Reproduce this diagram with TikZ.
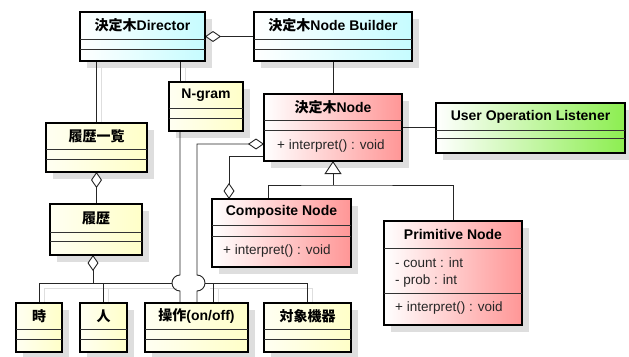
\documentclass[tikz,border=0pt]{standalone}
\usepackage{fontspec}
\setmainfont{Liberation Sans}
\newfontfamily\jp{Noto Sans CJK JP}
\usetikzlibrary{arrows.meta,calc}

\definecolor{cyanR}{RGB}{198,252,255}
\definecolor{yellowL}{RGB}{255,255,242}
\definecolor{yellowR}{RGB}{255,255,200}
\definecolor{redR}{RGB}{255,150,150}
\definecolor{greenR}{RGB}{140,238,80}

\pgfdeclarelayer{shade}
\pgfdeclarelayer{wires}
\pgfsetlayers{shade,wires,main}

\tikzset{
  classbox/.style={draw=black, line width=2.6pt, rectangle, anchor=north west, outer sep=0pt, inner sep=0pt},
  cyanbox/.style={classbox, left color=white, right color=cyanR},
  yellowbox/.style={classbox, left color=yellowL, right color=yellowR},
  redbox/.style={classbox, left color=white, right color=redR},
  greenbox/.style={classbox, left color=white, right color=greenR},
  boxtitle/.style={font=\bfseries\fontsize{14}{16}\selectfont, inner sep=0pt},
  member/.style={font=\fontsize{13.5}{16}\selectfont, text=black!85, anchor=west, inner sep=0pt},
  divider/.style={draw=black!80, line width=1pt},
  wire/.style={draw=black!85, line width=0.9pt},
  wshadow/.style={preaction={draw=black!13, line width=0.9pt, transform canvas={shift={(5pt,-5pt)}}}},
  aggr/.style={wire, {Diamond[fill=white, length=16pt, width=11pt]}-},
  inherit/.style={wire, -{Triangle[fill=white, length=13pt, width=17pt]}},
}

% name, style, top left, width, height, title, first divider, second divider
\newcommand{\umlclass}[8]{%
  \node[#2, minimum width=#4, minimum height=#5] (#1) at (#3) {};
  \node[boxtitle] (#1-title) at ($(#1.north)!0.5!([yshift=-#7]#1.north)$) {#6};
  \draw[divider] ([yshift=-#7]#1.north west) -- ([yshift=-#7]#1.north east);
  \draw[divider] ([yshift=-#8]#1.north west) -- ([yshift=-#8]#1.north east);
  \begin{pgfonlayer}{shade}
    \fill[black!13] ([shift={(7pt,-7pt)}]#1.north west) rectangle ([shift={(7pt,-7pt)}]#1.south east);
  \end{pgfonlayer}
}

\begin{document}
\begin{tikzpicture}[x=1pt, y=-1pt]
\useasboundingbox (0,0) rectangle (629,356);

\umlclass{dir}{cyanbox}{80,12}{125}{49}{{\jp 決定木}Director}{27}{37}
\umlclass{bld}{cyanbox}{254,12}{158}{49}{{\jp 決定木}Node Builder}{27}{37}
\umlclass{ngram}{yellowbox}{169,82}{74}{49}{N-gram}{26}{36}
\umlclass{list}{yellowbox}{46,123}{101}{49}{\jp 履歴一覧}{26}{36}
\umlclass{node}{redbox}{264,94}{138}{67}{{\jp 決定木}Node}{26}{36}
\umlclass{lsn}{greenbox}{436,103}{189}{50}{User Operation Listener}{27}{35}
\umlclass{comp}{redbox}{212,199}{139}{68}{Composite Node}{26}{37}
\umlclass{prim}{redbox}{384,221}{138}{104}{Primitive Node}{27}{72}
\umlclass{hist}{yellowbox}{50,204}{92}{51}{\jp 履歴}{28}{37}
\umlclass{toki}{yellowbox}{16,303}{46}{49}{\jp 時}{26}{36}
\umlclass{hito}{yellowbox}{80,303}{47}{49}{\jp 人}{26}{36}
\umlclass{sosa}{yellowbox}{145,303}{103}{49}{{\jp 操作}(on/off)}{26}{36}
\umlclass{kiki}{yellowbox}{264,303}{87}{49}{\jp 対象機器}{26}{36}

\node[member] (node-op) at ([shift={(13pt,-52pt)}]node.north west) {+ interpret() : void};
\node[member] (comp-op) at ([shift={(11pt,-52pt)}]comp.north west) {+ interpret() : void};
\node[member] (prim-count) at ([shift={(11pt,-42pt)}]prim.north west) {- count : int};
\node[member] (prim-prob) at ([shift={(11pt,-60pt)}]prim.north west) {- prob : int};
\node[member] (prim-op) at ([shift={(11pt,-87pt)}]prim.north west) {+ interpret() : void};

\coordinate (hopA) at (180,283);
\coordinate (hopB) at (197,283);
\coordinate (sosaDrop) at (213,283);
\coordinate (gsplit) at (333,185);

\begin{pgfonlayer}{wires}
\draw[aggr] (dir.east) -- (bld.west);
\draw[wire] (bld.south) -- (node.north);
\draw[wire] (node.east) -- (lsn.west |- node.east);
\draw[wire, wshadow] (dir.south -| list.north) -- (list.north);
\draw[wire, wshadow] (dir.south -| hopA) -- (ngram.north -| hopA);
\draw[aggr] (list.south) -- (list.south |- hist.north);
\draw[aggr] ([xshift=-3pt]hist.south) -- ([xshift=-3pt]hist.south |- hopA);

\draw[wire, wshadow] (toki.north) |- ([xshift=-8pt]hopA);
\draw[wire, wshadow] ([xshift=8pt]hopB) -| (kiki.north);
\draw[wire, wshadow] (hito.north) -- (hito.north |- hopA);
\draw[wire, wshadow] (sosaDrop) -- (sosa.north -| sosaDrop);

\draw[wire] (ngram.south -| hopA) -- ([yshift=8pt]hopA) arc[start angle=90, end angle=270, radius=8pt] -- (sosa.north -| hopA);
\draw[aggr] ([yshift=17pt]node.south west) -| ([yshift=8pt]hopB) arc[start angle=90, end angle=-90, radius=8pt] -- (sosa.north -| hopB);
\draw[wire, -{Diamond[fill=white, length=16pt, width=11pt]}] ([yshift=5pt]node.south west) -| ([xshift=17pt]comp.north west);

\draw[inherit] (gsplit) -- (node.south);
\draw[wire] ([xshift=56pt]comp.north west) |- (gsplit) -| (prim.north);
\end{pgfonlayer}
\end{tikzpicture}
\end{document}
